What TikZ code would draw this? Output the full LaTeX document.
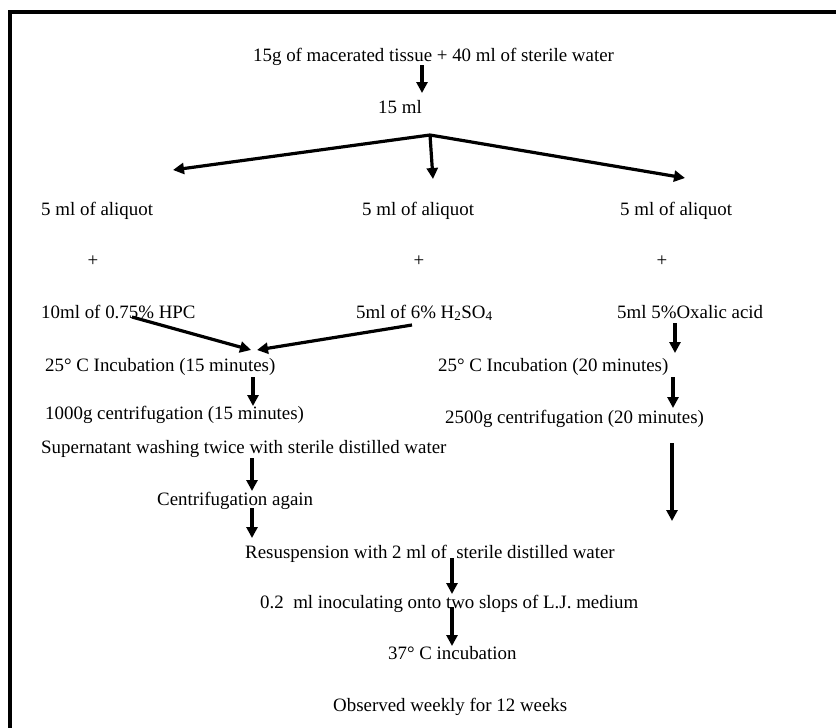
\documentclass[tikz,border=0pt]{standalone}
\usepackage{fontspec}
\setmainfont{Liberation Serif}
\usetikzlibrary{arrows.meta}
\begin{document}
\begin{tikzpicture}[x=1pt,y=-1pt,
  txt/.style={inner sep=0pt,anchor=base west,font=\fontsize{18.9}{22}\selectfont},
  arr/.style={line width=3.2pt,-{Triangle[length=11pt,width=11pt]}}]
\useasboundingbox (0,0) rectangle (836,728);
\fill[white] (0,0) rectangle (836,728);
% frame (top and left edges visible)
\coordinate (fbl) at (10,728);
\coordinate (ftl) at (10,12);
\coordinate (ftr) at (836,12);
\draw[line width=3.5pt] (fbl) -- (ftl) -- (ftr);
% texts
\node[txt] (n1) at (253,61) {15g of macerated tissue + 40 ml of sterile water};
\node[txt] (n2) at (378,113) {15 ml};
\node[txt] (al1) at (41,215) {5 ml of aliquot};
\node[txt] (al2) at (362,215) {5 ml of aliquot};
\node[txt] (al3) at (620,215) {5 ml of aliquot};
\node[txt,anchor=base] (p1) at (93,266) {+};
\node[txt,anchor=base] (p2) at (419,266) {+};
\node[txt,anchor=base] (p3) at (662,266) {+};
\node[txt] (hpc) at (41,318) {10ml of 0.75\% HPC};
\node[txt] (hso) at (356,318) {5ml of 6\% H\textsubscript{2}SO\textsubscript{4}};
\node[txt] (oxa) at (617,318) {5ml 5\%Oxalic acid};
\node[txt] (inc1) at (45,371) {25° C Incubation (15 minutes)};
\node[txt] (cen1) at (45,419) {1000g centrifugation (15 minutes)};
\node[txt] (sup) at (41,453) {Supernatant washing twice with sterile distilled water};
\node[txt] (inc2) at (438,371) {25° C Incubation (20 minutes)};
\node[txt] (cen2) at (445,423) {2500g centrifugation (20 minutes)};
\node[txt] (again) at (157,505) {Centrifugation again};
\node[txt] (res) at (245,558) {Resuspension with 2 ml of\ \ sterile distilled water};
\node[txt] (inoc) at (260,608) {0.2\ \ ml inoculating onto two slops of L.J. medium};
\node[txt] (i37) at (388,659) {37° C incubation};
\node[txt] (obs) at (333,711) {Observed weekly for 12 weeks};
% arrow end points
\coordinate (a1s) at (422,65);  \coordinate (a1e) at (422,93);
\coordinate (apex) at (430,135);
\coordinate (bl) at (173,170); \coordinate (bm) at (433,179); \coordinate (br) at (685,178);
\coordinate (h1s) at (132,317); \coordinate (h1e) at (251,350);
\coordinate (h2s) at (412,325); \coordinate (h2e) at (257,350);
\coordinate (c1s) at (253,377); \coordinate (c1e) at (253,406);
\coordinate (o1s) at (675,323); \coordinate (o1e) at (675,353);
\coordinate (o2s) at (673,377); \coordinate (o2e) at (673,408);
\coordinate (o3s) at (672,443); \coordinate (o3e) at (672,521);
\coordinate (s1s) at (252,458); \coordinate (s1e) at (252,491);
\coordinate (s2s) at (252,508); \coordinate (s2e) at (252,538);
\coordinate (r1s) at (452,558); \coordinate (r1e) at (452,594);
\coordinate (r2s) at (452,607); \coordinate (r2e) at (452,646);
% arrows
\draw[arr] (a1s) -- (a1e);
\draw[arr] (apex) -- (bl);
\draw[arr] (apex) -- (bm);
\draw[arr] (apex) -- (br);
\draw[arr] (h1s) -- (h1e);
\draw[arr] (h2s) -- (h2e);
\draw[arr] (c1s) -- (c1e);
\draw[arr] (o1s) -- (o1e);
\draw[arr] (o2s) -- (o2e);
\draw[arr] (o3s) -- (o3e);
\draw[arr] (s1s) -- (s1e);
\draw[arr] (s2s) -- (s2e);
\draw[arr] (r1s) -- (r1e);
\draw[arr] (r2s) -- (r2e);
\end{tikzpicture}
\end{document}
